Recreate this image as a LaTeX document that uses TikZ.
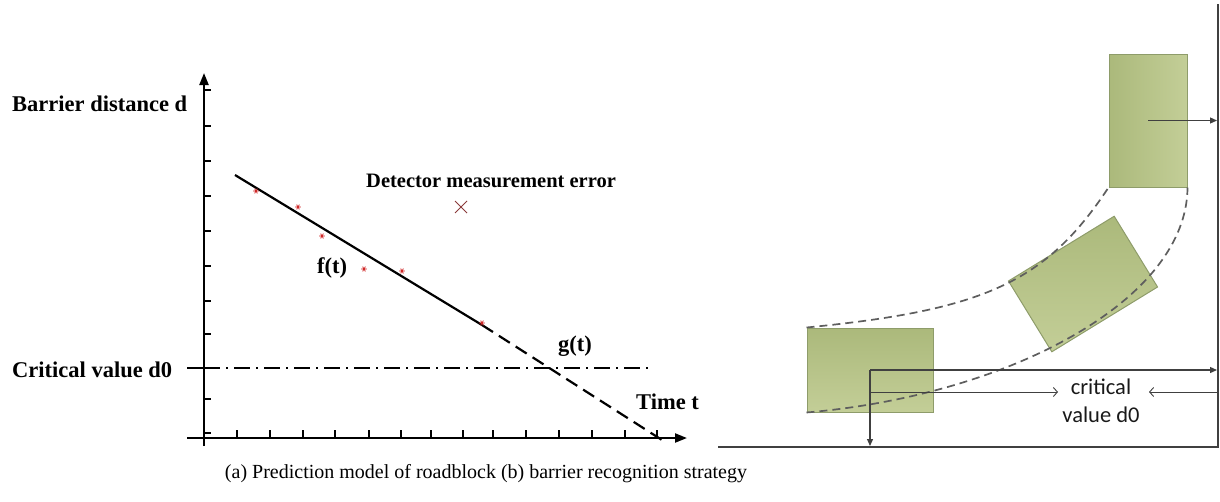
\documentclass[tikz,border=0pt]{standalone}
\usepackage{fontspec}
\setmainfont{Liberation Serif}
\newfontfamily\calfont{Carlito}
\usetikzlibrary{arrows.meta}
\definecolor{carfill}{HTML}{B6C386}
\definecolor{carlight}{HTML}{C3CE97}
\definecolor{cardark}{HTML}{ABB97B}
\definecolor{caredge}{HTML}{8E9C6A}
\definecolor{ptred}{HTML}{D02828}
\definecolor{xmark}{HTML}{8A3A3A}
\definecolor{dashgray}{HTML}{5E5E5E}
\definecolor{wallgray}{HTML}{404040}
\tikzset{
  axisline/.style={line width=2.2pt,-{Triangle[length=12pt,width=9pt]}},
  tickline/.style={line width=2pt},
  lbl/.style={inner sep=0pt,font=\fontsize{22.5}{24}\selectfont\bfseries},
  car/.style={draw=caredge,line width=1pt,inner sep=0pt},
  track/.style={draw=dashgray,line width=1.7pt,dash pattern=on 8pt off 5pt},
  longarrow/.style={draw=wallgray,line width=1.2pt,-{Triangle[length=7pt,width=6pt]}},
  shortarrow/.style={draw=wallgray,line width=0.9pt,-{Straight Barb[length=4pt,width=9pt]}},
  ast/.pic={\draw[ptred,line width=0.8pt] (-2.8,0)--(2.8,0) (-1.4,-2.4)--(1.4,2.4) (-1.4,2.4)--(1.4,-2.4);}
}
\begin{document}
\begin{tikzpicture}[x=1pt,y=-1pt]
\useasboundingbox (0,0) rectangle (1220,501);
% ---------- left panel: axes ----------
\coordinate (ybot) at (204,446);
\coordinate (ytop) at (204,73);
\coordinate (xleft) at (187,438);
\coordinate (xright) at (687,438);
\draw[axisline] (ybot) -- (ytop);
\draw[axisline] (xleft) -- (xright);
\foreach \y in {90,126,161,196,231,266,301,334,399,433}
  \draw[tickline] (204,\y) -- (211,\y);
\foreach \x in {237,270,303,335,369,401,431,463,493,526,559,592,625,657}
  \draw[tickline] (\x,438) -- (\x,430);
% critical value line
\coordinate (c0) at (187,368);
\coordinate (c1) at (204,368);
\coordinate (c2) at (652,368);
\draw[tickline] (c0) -- (c1);
\draw[line width=2.2pt,dash pattern=on 16pt off 6pt on 2pt off 6pt] (c1) -- (c2);
% fitted line f(t) and extrapolation g(t)
\coordinate (f0) at (235,175);
\coordinate (f1) at (482,325);
\coordinate (f2) at (662,440);
\draw[line width=2.2pt] (f0) -- (f1);
\draw[line width=2.2pt,dash pattern=on 13pt off 7pt] (f1) -- (f2);
% measurements
\foreach \p in {(256,191),(298,207),(322,236),(364,269),(402,271),(482,323)}
  \pic at \p {ast};
\draw[xmark,line width=1pt] (455,201) -- (467,213) (455,213) -- (467,201);
% labels
\node[lbl,anchor=base west] (ylab) at (12,111) {Barrier distance d};
\node[lbl,anchor=base west] (clab) at (12,377) {Critical value d0};
\node[lbl,anchor=base west,font=\fontsize{20.5}{22}\selectfont\bfseries] (dlab) at (366,187) {Detector measurement error};
\node[lbl,anchor=base west] (flab) at (317,273) {f(t)};
\node[lbl,anchor=base west] (glab) at (558,351) {g(t)};
\node[lbl,anchor=base west] (tlab) at (636,409) {Time t};
% ---------- right panel ----------
\coordinate (walltop) at (1218,4);
\coordinate (wallbot) at (1218,447);
\coordinate (floorleft) at (718,447);
\draw[wallgray,line width=2.2pt] (walltop) -- (wallbot);
\draw[wallgray,line width=2.8pt] (floorleft) -- (1219.3,447);
\node[car,left color=cardark,right color=carlight,minimum width=78pt,minimum height=133pt] (topcar) at (1148,120.5) {};
\node[car,top color=cardark,bottom color=carlight,minimum width=124pt,minimum height=83pt,rotate=31.5] (midcar) at (1083,284) {};
\node[car,top color=cardark,bottom color=carlight,minimum width=126pt,minimum height=84pt] (botcar) at (870,370) {};
\draw[track] (botcar.north west) .. controls (985,310) and (1046,282) .. (topcar.south west);
\draw[track] (botcar.south west) .. controls (1010,395) and (1187,300) .. (topcar.south east);
\coordinate (w1) at (1217,120.5);
\draw[longarrow] (topcar.center) -- (w1);
\coordinate (w2) at (1217,370);
\coordinate (fl) at (870,446);
\draw[longarrow] (botcar.center) -- (w2);
\draw[longarrow] (botcar.center) -- (fl);
\coordinate (s0) at (870,392);
\coordinate (s1) at (1058,392);
\coordinate (s2) at (1217,392);
\coordinate (s3) at (1149,392);
\draw[shortarrow] (s0) -- (s1);
\draw[shortarrow] (s2) -- (s3);
\node[inner sep=0pt,align=center,font=\calfont\fontsize{22.5}{28}\selectfont,text=black!90] (crit) at (1101,401) {critical\\value d0};
% caption
\node[inner sep=0pt,anchor=base,font=\fontsize{20}{22}\selectfont] (cap) at (486,478) {(a) Prediction model of roadblock (b) barrier recognition strategy};
\end{tikzpicture}
\end{document}
